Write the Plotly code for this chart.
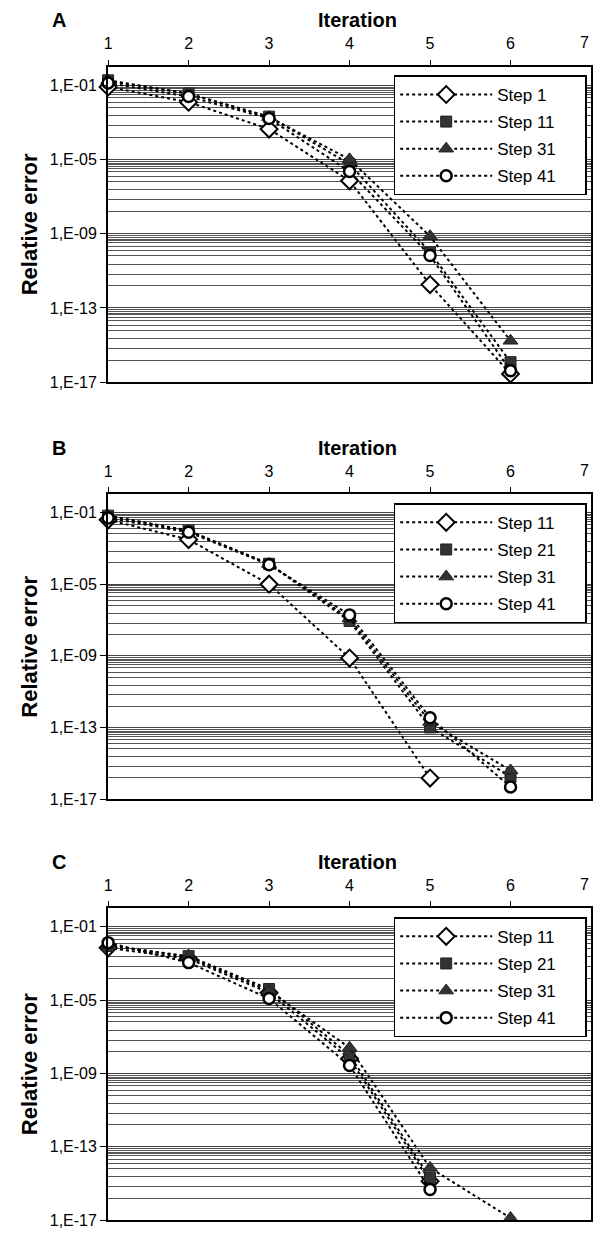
import plotly.graph_objects as go

W, H = 593, 1239

iterations = [1, 2, 3, 4, 5, 6]

# Panel A
a_names = ["Step 1", "Step 11", "Step 31", "Step 41"]
a_s1 = [8.0e-2, 1.2e-2, 4.3e-4, 7.0e-7, 1.8e-12, 2.8e-17]
a_s11 = [1.8e-1, 3.5e-2, 2.0e-3, 5.6e-6, 1.0e-10, 1.2e-16]
a_s31 = [1.7e-1, 3.4e-2, 1.9e-3, 1.0e-5, 7.2e-10, 1.7e-15]
a_s41 = [1.3e-1, 2.4e-2, 1.6e-3, 2.2e-6, 6.6e-11, 4.2e-17]

# Panel B
b_names = ["Step 11", "Step 21", "Step 31", "Step 41"]
b_s11 = [3.8e-2, 3.0e-3, 9.8e-6, 7.4e-10, 1.5e-16]
b_s21 = [6.5e-2, 9.5e-3, 1.35e-4, 8.7e-8, 1.0e-13, 1.8e-16]
b_s31 = [6.3e-2, 9.0e-3, 1.3e-4, 1.2e-7, 2.0e-13, 4.0e-16]
b_s41 = [4.8e-2, 7.8e-3, 1.2e-4, 1.9e-7, 3.5e-13, 4.8e-17]

# Panel C
c_names = ["Step 11", "Step 21", "Step 31", "Step 41"]
c_s11 = [7.0e-3, 1.8e-3, 2.5e-5, 6.3e-9, 1.3e-15]
c_s21 = [8.9e-3, 2.5e-3, 4.0e-5, 1.0e-8, 2.0e-15]
c_s31 = [1.0e-2, 2.2e-3, 3.2e-5, 2.5e-8, 7.0e-15, 1.3e-17]
c_s41 = [1.35e-2, 1.1e-3, 1.2e-5, 2.7e-9, 4.7e-16]

y_tickvals = [1e-1, 1e-5, 1e-9, 1e-13, 1e-17]
y_ticktext = ["1,E-01", "1,E-05", "1,E-09", "1,E-13", "1,E-17"]
x_ticks = [1, 2, 3, 4, 5, 6, 7]
panel_letters = ["A", "B", "C"]

# minor grid lines: offsets (in decades) below each major tick
minor_offsets = [0.11, 0.2, 0.29, 0.38, 0.5, 0.68, 0.92, 1.19, 1.64, 2.18, 2.81]
majors_exp = [-1, -5, -9, -13]
minor_vals = [10.0 ** (m - d) for m in majors_exp for d in minor_offsets]

FONT = "Liberation Sans"
panels = [(67, 385), (498, 805), (915, 1229)]
x_left, x_right = 105, 592
LEGEND_PAD = "\u00a0" * 5


def py(p):
    return 1 - p / H


def px(p):
    return p / W


styles = [
    dict(symbol="diamond", size=13, color="white", line=dict(color="black", width=2)),
    dict(symbol="square", size=11, color="#333333", line=dict(color="#222222", width=1)),
    dict(symbol="triangle-up", size=13, color="#333333", line=dict(color="#222222", width=1)),
    dict(symbol="circle", size=11, color="white", line=dict(color="black", width=2.5)),
]

data_sets = [
    (a_names, [a_s1, a_s11, a_s31, a_s41]),
    (b_names, [b_s11, b_s21, b_s31, b_s41]),
    (c_names, [c_s11, c_s21, c_s31, c_s41]),
]

fig = go.Figure()
layout = dict(
    width=W, height=H, margin=dict(l=0, r=0, t=0, b=0),
    paper_bgcolor="white", plot_bgcolor="white", showlegend=True,
    font=dict(family=FONT, color="black", size=16),
)
annotations = []

for i, ((names, series), (top, bot)) in enumerate(zip(data_sets, panels)):
    n = "" if i == 0 else str(i + 1)
    n_over = str(i + 4)
    leg = "legend" if i == 0 else "legend" + str(i + 1)
    for j, (name, vals, st) in enumerate(zip(names, series, styles)):
        fig.add_trace(go.Scatter(
            x=iterations[:len(vals)], y=vals, name=name + LEGEND_PAD, mode="lines+markers",
            line=dict(color="black", width=2, dash="3px,3px"),
            marker=st, xaxis="x" + n, yaxis="y" + n, legend=leg, cliponaxis=False,
            legendgroup="g%d_%d" % (i, j),
        ))
    dom_y = [py(bot), py(top)]
    layout["xaxis" + n] = dict(
        domain=[px(x_left), px(x_right)], range=[1, 7], side="top", anchor="y" + n,
        tickvals=x_ticks[:-1], ticks="outside", ticklen=5, tickwidth=1, tickcolor="black",
        showline=True, linewidth=2, linecolor="black", mirror=True, showgrid=False,
        zeroline=False, tickfont=dict(size=16, family=FONT), ticklabelstandoff=4,
    )
    layout["xaxis" + n_over] = dict(
        domain=[px(x_left), px(x_right)], range=[1, 7], overlaying="x" + n, anchor="y" + n,
        side="top", tickvals=x_ticks, ticks="inside", ticklen=5, tickwidth=1,
        tickcolor="black", showticklabels=False, showgrid=False, zeroline=False, showline=False,
    )
    layout["yaxis" + n] = dict(
        domain=dom_y, type="log", range=[-17, 0], anchor="x" + n,
        tickvals=y_tickvals, ticktext=y_ticktext, ticks="outside", ticklen=6,
        tickcolor="black", tickfont=dict(size=16, family=FONT),
        showline=True, linewidth=2, linecolor="black", mirror=True,
        showgrid=True, gridcolor="#444444", gridwidth=1, zeroline=False,
        minor=dict(tickmode="array", tickvals=minor_vals, showgrid=True,
                   gridcolor="#555555", gridwidth=1, ticks=""),
        title=dict(text="<b>Relative error</b>", font=dict(size=22, family=FONT), standoff=6),
    )
    layout[leg] = dict(
        x=px(393), y=py(top + 9), xanchor="left", yanchor="top",
        bgcolor="white", bordercolor="black", borderwidth=1.5,
        font=dict(size=17, family=FONT), itemwidth=92, tracegroupgap=2,
    )
    annotations.append(dict(
        text="<b>Iteration</b>", x=px(357), y=py(top - 47), xref="paper", yref="paper",
        showarrow=False, font=dict(size=20, family=FONT), xanchor="center", yanchor="middle",
    ))
    annotations.append(dict(
        text="<b>" + panel_letters[i] + "</b>", x=px(46), y=py(top - 47), xref="paper",
        yref="paper", showarrow=False, font=dict(size=20, family=FONT),
        xanchor="left", yanchor="middle",
    ))
    annotations.append(dict(
        text=str(x_ticks[-1]), x=1.0, y=py(top - 24), xref="paper", yref="paper",
        showarrow=False, font=dict(size=16, family=FONT), xanchor="right", yanchor="middle",
        xshift=-1,
    ))

layout["annotations"] = annotations
fig.update_layout(**layout)
fig.write_html("out.html")
